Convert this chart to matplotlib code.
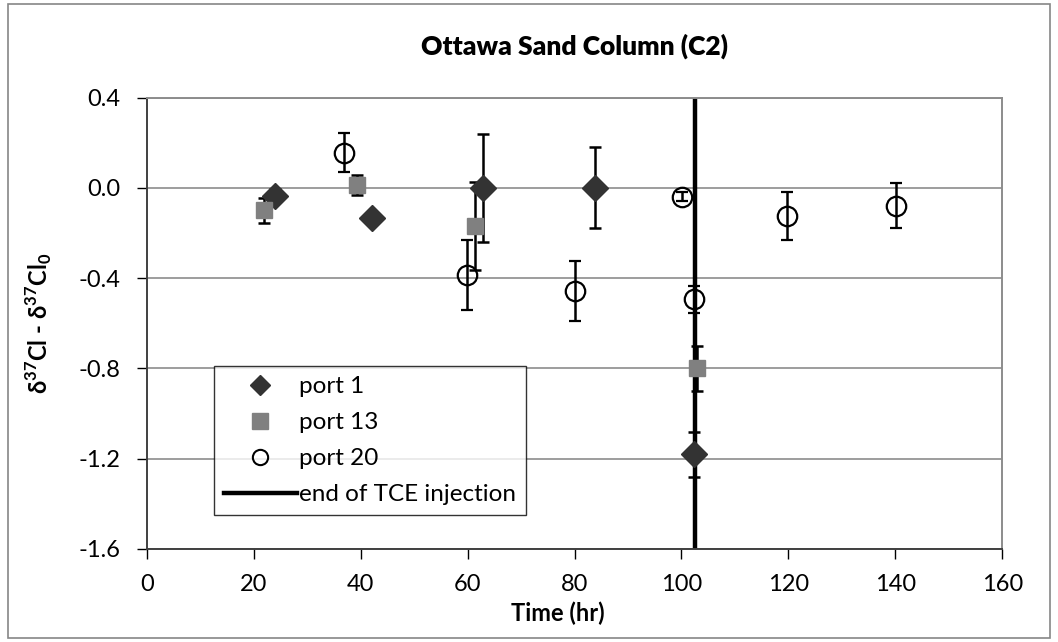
import matplotlib
matplotlib.use("Agg")
import matplotlib.pyplot as plt
from matplotlib.patches import Rectangle
from matplotlib.lines import Line2D

plt.rcParams['font.family'] = ['Lato', 'DejaVu Sans']
plt.rcParams['mathtext.fontset'] = 'custom'
plt.rcParams['mathtext.rm'] = 'Lato'
plt.rcParams['mathtext.bf'] = 'Lato:bold'

# port 1 (diamonds)
p1_time = [24.0, 42.1, 62.9, 83.9, 102.4]
p1_val = [-0.035, -0.135, 0.0, 0.0, -1.18]
p1_err = [0.03, 0.0, 0.24, 0.18, 0.10]

# port 13 (squares)
p13_time = [21.9, 39.4, 61.4, 102.9]
p13_val = [-0.10, 0.013, -0.17, -0.80]
p13_err = [0.055, 0.045, 0.195, 0.10]

# port 20 (open circles)
p20_time = [36.9, 59.8, 80.1, 100.1, 102.4, 119.7, 140.2]
p20_val = [0.156, -0.385, -0.456, -0.039, -0.493, -0.126, -0.079]
p20_err = [0.087, 0.155, 0.133, 0.02, 0.06, 0.107, 0.10]

tce_end = 102.5

xticks = [0, 20, 40, 60, 80, 100, 120, 140, 160]
yticks = [-1.6, -1.2, -0.8, -0.4, 0.0, 0.4]

fig = plt.figure(figsize=(10.58, 6.42), dpi=100)
ax = fig.add_axes([0.1387, 0.1449, 0.8087, 0.7032])

# outer chart frame
fig.patches.append(Rectangle((8 / 1058, 4 / 642), 1042 / 1058, 634 / 642,
                             transform=fig.transFigure, fill=False,
                             edgecolor='#868686', linewidth=1.2, zorder=0))

for y in yticks:
    ax.axhline(y, color='#8c8c8c', linewidth=1.2, zorder=1)

ax.axvline(tce_end, color='black', linewidth=3.2, zorder=2)

ebkw = dict(ecolor='black', elinewidth=1.8, capsize=4.3, capthick=1.8,
            linestyle='none')
ax.errorbar(p1_time, p1_val, yerr=p1_err, marker='D', markersize=13,
            markerfacecolor='#333333', markeredgecolor='#333333',
            zorder=4, **ebkw)
ax.errorbar(p13_time, p13_val, yerr=p13_err, marker='s', markersize=12,
            markerfacecolor='#808080', markeredgecolor='#808080',
            zorder=4, **ebkw)
ax.errorbar(p20_time, p20_val, yerr=p20_err, marker='o', markersize=14,
            markerfacecolor='none', markeredgecolor='black',
            markeredgewidth=1.6, zorder=5, **ebkw)

ax.set_xlim(0, 160)
ax.set_ylim(-1.6, 0.4)
ax.set_xticks(xticks)
ax.set_yticks(yticks)
ax.set_yticklabels([f'{v:.1f}' for v in yticks])
ax.tick_params(direction='out', length=7, width=1, labelsize=17,
               colors='black')
ax.tick_params(axis='y', pad=12)
ax.tick_params(axis='x', pad=11)

for side in ('left', 'bottom'):
    ax.spines[side].set_color('#404040')
    ax.spines[side].set_linewidth(1.4)
for side in ('top', 'right'):
    ax.spines[side].set_color('#8c8c8c')
    ax.spines[side].set_linewidth(1.4)

ax.set_title('Ottawa Sand Column (C2)', fontsize=19, fontweight='heavy',
             pad=31)
ax.set_xlabel('Time (hr)', fontsize=17, fontweight='bold')
ax.xaxis.set_label_coords(0.48, -0.117)
ax.set_ylabel(r'δ$^{\mathbf{37}}$Cl - δ$^{\mathbf{37}}$Cl$_{\mathbf{0}}$',
              fontsize=17, fontweight='bold')
ax.yaxis.set_label_coords(-0.108, 0.5)

legend_handles = [
    Line2D([], [], linestyle='none', marker='D', markersize=10,
           markerfacecolor='#333333', markeredgecolor='#333333'),
    Line2D([], [], linestyle='none', marker='s', markersize=12,
           markerfacecolor='#808080', markeredgecolor='#808080'),
    Line2D([], [], linestyle='none', marker='o', markersize=11,
           markerfacecolor='none', markeredgecolor='black',
           markeredgewidth=1.5),
    Line2D([], [], color='black', linewidth=3.2),
]
legend_labels = ['port 1', 'port 13', 'port 20', 'end of TCE injection']
leg = ax.legend(legend_handles, legend_labels,
                loc='lower left', bbox_to_anchor=(0.0787, 0.0753),
                borderaxespad=0, fontsize=17.5, frameon=True, fancybox=False,
                edgecolor='black', handlelength=3.0, handletextpad=0.1,
                labelspacing=0.62, borderpad=0.4)
leg.get_frame().set_linewidth(1.0)
leg.set_zorder(6)

fig.savefig('out.png', dpi=100)
